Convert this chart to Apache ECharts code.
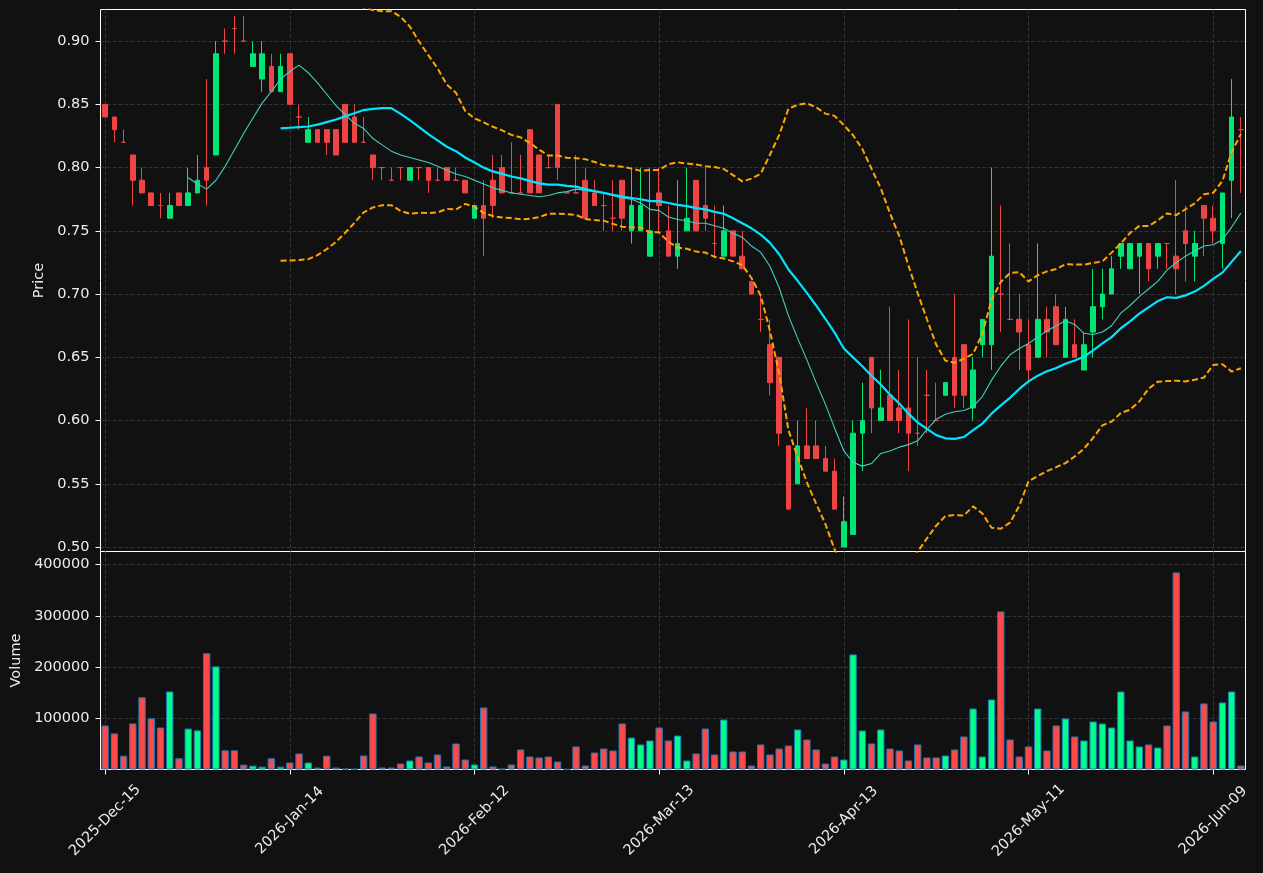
<!DOCTYPE html>
<html>
<head>
<meta charset="utf-8">
<title>Price / Volume</title>
<script src="https://cdn.jsdelivr.net/npm/echarts@6.0.0/dist/echarts.min.js"></script>
<style>
    html, body { margin: 0; padding: 0; background: #111111; }
    #mychart { width: 1263px; height: 873px; }
</style>
</head>
<body>
<div id="mychart"></div>
<script>
//日线数据 (price in $)
var opens = [0.85,0.84,0.82,0.81,0.79,0.78,0.77,0.76,0.78,0.77, 0.78,0.80,0.81,0.90,0.91,0.90,0.88,0.87,0.88,0.86,
    0.89,0.84,0.82,0.83,0.83,0.83,0.85,0.84,0.82,0.81, 0.80,0.79,0.80,0.79,0.80,0.80,0.79,0.80,0.79,0.79,
    0.76,0.77,0.79,0.80,0.78,0.78,0.83,0.81,0.80,0.85, 0.78,0.78,0.79,0.78,0.77,0.76,0.79,0.75,0.75,0.73,
    0.78,0.75,0.73,0.75,0.79,0.77,0.74,0.73,0.75,0.73, 0.71,0.68,0.66,0.65,0.58,0.55,0.58,0.58,0.57,0.56,
    0.50,0.51,0.59,0.65,0.60,0.62,0.61,0.61,0.59,0.62, 0.60,0.62,0.65,0.66,0.61,0.66,0.66,0.70,0.68,0.68,
    0.66,0.65,0.68,0.69,0.65,0.66,0.64,0.67,0.69,0.70, 0.73,0.72,0.73,0.74,0.73,0.74,0.73,0.75,0.73,0.77,
    0.76,0.74,0.79,0.83];
var closes = [0.84,0.83,0.82,0.79,0.78,0.77,0.77,0.77,0.77,0.78, 0.79,0.79,0.89,0.90,0.91,0.90,0.89,0.89,0.86,0.88,
    0.85,0.84,0.83,0.82,0.82,0.81,0.82,0.82,0.82,0.80, 0.80,0.79,0.80,0.80,0.80,0.79,0.79,0.79,0.79,0.78,
    0.77,0.76,0.77,0.78,0.78,0.78,0.78,0.78,0.80,0.80, 0.78,0.78,0.76,0.77,0.77,0.76,0.76,0.77,0.77,0.75,
    0.77,0.73,0.74,0.76,0.75,0.76,0.74,0.75,0.73,0.72, 0.70,0.68,0.63,0.59,0.53,0.58,0.57,0.57,0.56,0.53,
    0.52,0.59,0.60,0.61,0.61,0.60,0.60,0.59,0.59,0.62, 0.60,0.63,0.62,0.62,0.64,0.68,0.73,0.70,0.68,0.67,
    0.64,0.68,0.67,0.66,0.68,0.65,0.66,0.69,0.70,0.72, 0.74,0.74,0.74,0.72,0.74,0.74,0.72,0.74,0.74,0.76,
    0.75,0.78,0.84,0.83];
var lows = [0.84,0.82,0.82,0.77,0.78,0.77,0.76,0.76,0.77,0.77, 0.78,0.77,0.81,0.89,0.89,0.90,0.88,0.86,0.86,0.86,
    0.85,0.83,0.82,0.82,0.81,0.81,0.82,0.82,0.82,0.79, 0.79,0.79,0.79,0.79,0.79,0.78,0.79,0.79,0.79,0.78,
    0.76,0.73,0.76,0.78,0.78,0.78,0.78,0.78,0.80,0.79, 0.78,0.78,0.76,0.77,0.75,0.75,0.75,0.74,0.75,0.73,
    0.75,0.73,0.72,0.75,0.75,0.75,0.73,0.73,0.73,0.72, 0.70,0.67,0.62,0.58,0.53,0.55,0.57,0.57,0.56,0.53,
    0.50,0.51,0.56,0.59,0.60,0.60,0.59,0.56,0.58,0.59, 0.60,0.62,0.61,0.61,0.60,0.65,0.64,0.67,0.68,0.64,
    0.63,0.65,0.65,0.66,0.65,0.65,0.64,0.65,0.68,0.70, 0.72,0.72,0.70,0.71,0.72,0.72,0.70,0.71,0.71,0.73,
    0.74,0.72,0.76,0.78];
var highs = [0.85,0.84,0.83,0.81,0.80,0.78,0.78,0.78,0.78,0.80, 0.81,0.87,0.90,0.91,0.92,0.92,0.90,0.90,0.89,0.89,
    0.89,0.85,0.84,0.83,0.83,0.83,0.85,0.85,0.84,0.81, 0.80,0.80,0.80,0.80,0.80,0.80,0.80,0.80,0.80,0.79,
    0.77,0.79,0.81,0.81,0.82,0.81,0.83,0.81,0.81,0.85, 0.78,0.81,0.80,0.79,0.78,0.79,0.79,0.80,0.80,0.80,
    0.80,0.77,0.79,0.80,0.79,0.80,0.77,0.77,0.75,0.75, 0.71,0.70,0.68,0.65,0.58,0.60,0.61,0.60,0.58,0.57,
    0.54,0.60,0.63,0.65,0.64,0.69,0.64,0.68,0.65,0.64, 0.63,0.63,0.70,0.66,0.65,0.68,0.80,0.77,0.74,0.70,
    0.68,0.74,0.69,0.70,0.69,0.68,0.67,0.72,0.72,0.73, 0.74,0.74,0.74,0.74,0.74,0.74,0.79,0.77,0.75,0.77,
    0.77,0.78,0.87,0.84];
//成交量
var volumes = [86000,70500,27000,90000,141000,100000,82000,152500,22000,80000,
    76500,227000,201500,37500,37500,9500,7500,5500,22000,5500,
    13700,31300,13700,3900,27000,3900,1500,1000,27400,109400,
    3900,3900,11700,17600,25400,13700,29300,5900,50800,19500,
    9800,121200,5900,1300,9800,39100,25400,23500,25400,15600,
    500,45000,7800,33200,41000,37100,89900,62500,48900,56700,
    82100,56700,66400,17600,31300,80100,29300,97700,35200,35200,
    7800,48900,29300,41000,46900,78200,58600,39100,11700,25400,
    19500,224800,76200,50800,78200,41000,37100,17600,48900,23500,
    23500,27400,39100,64500,119200,25400,136800,308800,58600,25400,
    45000,119200,37100,86000,99700,64500,56700,93800,89900,82100,
    152400,56700,45000,48900,43000,86000,385000,113400,25400,129000,
    93800,130900,152400,7800];

//均线 (MA10 starts at bar 9, MA20 and bands at bar 19)
var ma10Start = 9;
var ma10 = [0.792,
    0.787,0.783,0.790,0.801,0.814,0.827,0.839,0.851,0.860,0.870,
    0.876,0.881,0.875,0.867,0.858,0.849,0.842,0.835,0.831,0.823,
    0.818,0.813,0.810,0.808,0.806,0.804,0.801,0.798,0.795,0.793,
    0.790,0.787,0.784,0.782,0.780,0.779,0.778,0.777,0.778,0.780,
    0.781,0.783,0.782,0.781,0.780,0.778,0.776,0.775,0.772,0.767,
    0.766,0.761,0.759,0.758,0.756,0.756,0.754,0.752,0.748,0.745,
    0.738,0.733,0.722,0.705,0.683,0.665,0.648,0.630,0.613,0.594,
    0.576,0.567,0.564,0.566,0.574,0.576,0.579,0.581,0.584,0.593,
    0.601,0.605,0.607,0.608,0.611,0.619,0.632,0.643,0.652,0.657,
    0.661,0.666,0.671,0.675,0.679,0.676,0.669,0.668,0.670,0.675,
    0.685,0.691,0.698,0.704,0.710,0.719,0.725,0.730,0.734,0.738,
    0.739,0.743,0.753,0.764];
var ma20Start = 19;
var ma20 = [0.8310,
    0.8315,0.8320,0.8325,0.8340,0.8360,0.8380,0.8405,0.8430,0.8455,0.8465,
    0.8470,0.8470,0.8425,0.8375,0.8320,0.8265,0.8215,0.8165,0.8130,0.8080,
    0.8040,0.8000,0.7970,0.7950,0.7930,0.7915,0.7895,0.7875,0.7865,0.7865,
    0.7855,0.7850,0.7830,0.7815,0.7800,0.7785,0.7770,0.7760,0.7750,0.7735,
    0.7735,0.7720,0.7705,0.7695,0.7680,0.7670,0.7650,0.7635,0.7600,0.7560,
    0.7520,0.7470,0.7405,0.7315,0.7195,0.7105,0.7010,0.6910,0.6805,0.6695,
    0.6570,0.6500,0.6430,0.6355,0.6285,0.6205,0.6135,0.6055,0.5985,0.5935,
    0.5885,0.5860,0.5855,0.5870,0.5925,0.5975,0.6055,0.6120,0.6180,0.6250,
    0.6310,0.6355,0.6390,0.6415,0.6450,0.6475,0.6505,0.6555,0.6610,0.6660,
    0.6730,0.6785,0.6845,0.6895,0.6945,0.6975,0.6970,0.6990,0.7020,0.7065,
    0.7120,0.7170,0.7255,0.7340];
var bandUpper = [0.9357,
    0.9364,0.9370,0.9374,0.9372,0.9365,0.9347,0.9325,0.9297,0.9264,0.9245,
    0.9237,0.9237,0.9192,0.9115,0.8997,0.8889,0.8785,0.8656,0.8591,0.8447,
    0.8389,0.8358,0.8323,0.8294,0.8259,0.8239,0.8195,0.8142,0.8095,0.8095,
    0.8078,0.8074,0.8067,0.8045,0.8019,0.8015,0.8007,0.7992,0.7974,0.7982,
    0.7982,0.8027,0.8042,0.8032,0.8024,0.8011,0.8005,0.7989,0.7941,0.7891,
    0.7913,0.7952,0.8102,0.8258,0.8465,0.8497,0.8509,0.8477,0.8427,0.8409,
    0.8336,0.8256,0.8148,0.7991,0.7837,0.7638,0.7461,0.7225,0.7007,0.6801,
    0.6601,0.6474,0.6457,0.6490,0.6528,0.6685,0.6957,0.7095,0.7167,0.7174,
    0.7100,0.7149,0.7180,0.7198,0.7236,0.7234,0.7233,0.7246,0.7258,0.7328,
    0.7400,0.7484,0.7539,0.7538,0.7582,0.7638,0.7625,0.7671,0.7717,0.7790,
    0.7800,0.7894,0.8123,0.8266];
var bandLower = [0.7263,
    0.7266,0.7270,0.7276,0.7308,0.7355,0.7413,0.7485,0.7563,0.7646,0.7685,
    0.7703,0.7703,0.7658,0.7635,0.7643,0.7641,0.7645,0.7674,0.7669,0.7713,
    0.7691,0.7642,0.7617,0.7606,0.7601,0.7591,0.7595,0.7608,0.7635,0.7635,
    0.7632,0.7626,0.7593,0.7585,0.7581,0.7555,0.7533,0.7528,0.7526,0.7488,
    0.7488,0.7413,0.7368,0.7358,0.7336,0.7329,0.7295,0.7281,0.7259,0.7229,
    0.7127,0.6988,0.6708,0.6372,0.5925,0.5713,0.5511,0.5343,0.5183,0.4981,
    0.4804,0.4744,0.4712,0.4719,0.4733,0.4772,0.4809,0.4885,0.4963,0.5069,
    0.5169,0.5246,0.5253,0.5250,0.5322,0.5265,0.5153,0.5145,0.5193,0.5326,
    0.5520,0.5561,0.5600,0.5632,0.5664,0.5716,0.5777,0.5864,0.5962,0.5992,
    0.6060,0.6086,0.6151,0.6252,0.6308,0.6312,0.6315,0.6309,0.6323,0.6340,
    0.6440,0.6446,0.6387,0.6414];

//坐标轴刻度
var priceTicks = [0.50, 0.55, 0.60, 0.65, 0.70, 0.75, 0.80, 0.85, 0.90];
var volumeTicks = [100000, 200000, 300000, 400000];
var firstDay = '2025-12-15';
var holidays = ['2025-12-25', '2026-01-01', '2026-01-19', '2026-02-16', '2026-04-03', '2026-05-25'];
var monthNames = ['Jan','Feb','Mar','Apr','May','Jun','Jul','Aug','Sep','Oct','Nov','Dec'];

var UP = '#00e676', DOWN = '#ef4444';
var VOL_UP = '#00ff88', VOL_DOWN = '#ff4848';
var TEXT = '#ececec';
var FONT = 'DejaVu Sans';

//交易日 (weekdays minus exchange holidays)
function tradingDays(start, count) {
    var out = [];
    var d = new Date(start + 'T00:00:00Z');
    while (out.length < count) {
        var iso = d.toISOString().slice(0, 10);
        var wd = d.getUTCDay();
        if (wd != 0 && wd != 6 && holidays.indexOf(iso) < 0) {
            out.push(iso);
        }
        d.setUTCDate(d.getUTCDate() + 1);
    }
    return out;
}
function fmtDate(iso) {
    var p = iso.split('-');
    return p[0] + '-' + monthNames[parseInt(p[1], 10) - 1] + '-' + p[2];
}
function padFront(arr, n) {
    var out = [];
    for (var i = 0; i < n; i++) out.push(null);
    return out.concat(arr);
}

var dates = tradingDays(firstDay, closes.length);

var candleData = [], volumeData = [];
for (var i = 0; i < closes.length; i++) {
    var item = { value: [opens[i], closes[i], lows[i], highs[i]] };
    if (opens[i] == closes[i]) {
        //十字星 drawn in the down colour
        item.itemStyle = { color: DOWN, color0: DOWN, borderColor: DOWN, borderColor0: DOWN, borderColorDoji: DOWN };
    }
    candleData.push(item);
    volumeData.push({
        value: volumes[i],
        itemStyle: { color: closes[i] > opens[i] ? VOL_UP : VOL_DOWN }
    });
}

var gridLine = { show: true, lineStyle: { color: '#3c3c3c', width: 0.8, type: [4, 2] } };
var axisText = { color: TEXT, fontSize: 14.5, fontFamily: FONT };
var bandStyle = { color: '#ffa500', width: 2, type: [6, 3] };

var myChart = echarts.init(document.getElementById('mychart'));
var option = {
    backgroundColor: '#111111',
    animation: false,
    grid: [
        { left: 100.5, top: 9.5, width: 1145, height: 542, show: true, borderColor: '#ffffff', borderWidth: 1, backgroundColor: '#111111' },
        { left: 100.5, top: 551.5, width: 1145, height: 218, show: true, borderColor: '#ffffff', borderWidth: 1, backgroundColor: '#111111' }
    ],
    xAxis: [
        {
            type: 'category', gridIndex: 0, data: dates, boundaryGap: true,
            axisLine: { show: false }, axisTick: { show: false }, axisLabel: { show: false },
            splitLine: { show: true, interval: 19, alignWithLabel: true, lineStyle: gridLine.lineStyle }
        },
        {
            type: 'category', gridIndex: 1, data: dates, boundaryGap: true,
            axisLine: { show: false },
            axisTick: { show: true, interval: 19, alignWithLabel: true, length: 5, lineStyle: { color: '#ffffff' } },
            axisLabel: {
                interval: 19, rotate: 45, align: 'center', verticalAlign: 'middle', margin: 51,
                color: TEXT, fontSize: 14.5, fontFamily: FONT,
                formatter: function (v) { return fmtDate(v); }
            },
            splitLine: { show: true, interval: 19, alignWithLabel: true, lineStyle: gridLine.lineStyle }
        }
    ],
    yAxis: [
        {
            type: 'value', gridIndex: 0, min: 0.4965, max: 0.925, scale: true,
            name: 'Price', nameLocation: 'middle', nameGap: 42, nameTextStyle: axisText,
            axisLine: { show: false },
            axisTick: { show: true, length: 5, customValues: priceTicks, lineStyle: { color: '#ffffff' } },
            axisLabel: {
                customValues: priceTicks, margin: 11, color: TEXT, fontSize: 14.5, fontFamily: FONT,
                formatter: function (v) { return v.toFixed(2); }
            },
            splitLine: gridLine
        },
        {
            type: 'value', gridIndex: 1, min: 0, max: 425800,
            name: 'Volume', nameLocation: 'middle', nameGap: 72, nameTextStyle: axisText,
            axisLine: { show: false },
            axisTick: { show: true, length: 5, customValues: volumeTicks, lineStyle: { color: '#ffffff' } },
            axisLabel: {
                customValues: volumeTicks, margin: 11, color: TEXT, fontSize: 14.5, fontFamily: FONT,
                formatter: function (v) { return String(v); }
            },
            splitLine: gridLine
        }
    ],
    series: [
        {
            name: 'OHLC', type: 'candlestick', xAxisIndex: 0, yAxisIndex: 0,
            data: candleData, barWidth: '55%',
            itemStyle: { color: UP, color0: DOWN, borderColor: UP, borderColor0: DOWN, borderWidth: 1 }
        },
        {
            name: 'MA10', type: 'line', xAxisIndex: 0, yAxisIndex: 0, data: padFront(ma10, ma10Start),
            symbol: 'none', lineStyle: { color: '#40d0c0', width: 1.1 }, z: 3
        },
        {
            name: 'MA20', type: 'line', xAxisIndex: 0, yAxisIndex: 0, data: padFront(ma20, ma20Start),
            symbol: 'none', lineStyle: { color: '#00e5ff', width: 2.2 }, z: 3
        },
        {
            name: 'Upper', type: 'line', xAxisIndex: 0, yAxisIndex: 0, data: padFront(bandUpper, ma20Start),
            symbol: 'none', lineStyle: bandStyle, z: 3
        },
        {
            name: 'Lower', type: 'line', xAxisIndex: 0, yAxisIndex: 0, data: padFront(bandLower, ma20Start),
            symbol: 'none', lineStyle: bandStyle, z: 3
        },
        {
            name: 'Volume', type: 'bar', xAxisIndex: 1, yAxisIndex: 1, data: volumeData,
            barWidth: '80%', itemStyle: { borderColor: '#1f77b4', borderWidth: 1 }
        }
    ]
};
myChart.setOption(option);
</script>
</body>
</html>
